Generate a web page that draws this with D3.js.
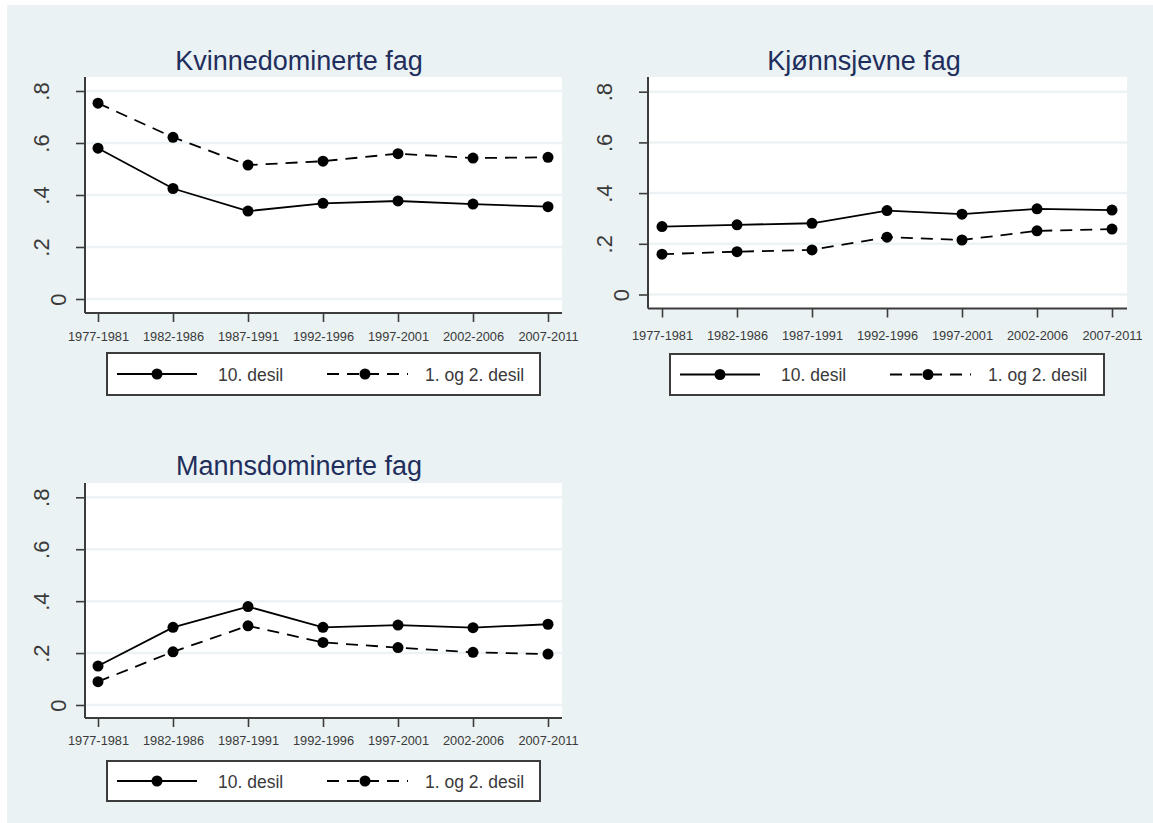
<!DOCTYPE html>
<html>
<head>
<meta charset="utf-8">
<script src="https://cdn.jsdelivr.net/npm/d3@7/dist/d3.min.js"></script>
<style>
  html, body { margin: 0; padding: 0; background: #ffffff; }
  svg { display: block; }
  text { font-family: "Liberation Sans", Arial, Helvetica, sans-serif; }
</style>
</head>
<body>
<svg id="chart" width="1153" height="823"></svg>
<script>
// Periods on the x axis
const periods = ["1977-1981", "1982-1986", "1987-1991", "1992-1996", "1997-2001", "2002-2006", "2007-2011"];
// Y axis ticks and their labels
const yTicks = [0, 0.2, 0.4, 0.6, 0.8];
const yTickLabels = ["0", ".2", ".4", ".6", ".8"];
// Series names
const seriesNames = ["10. desil", "1. og 2. desil"];
// Panel titles
const panelTitles = ["Kvinnedominerte fag", "Kjønnsjevne fag", "Mannsdominerte fag"];

// Kvinnedominerte fag
const kvinneTop = [0.58, 0.425, 0.338, 0.368, 0.377, 0.365, 0.355];
const kvinneBottom = [0.753, 0.622, 0.515, 0.530, 0.559, 0.542, 0.545];
// Kjønnsjevne fag
const jevnTop = [0.268, 0.275, 0.281, 0.331, 0.317, 0.338, 0.333];
const jevnBottom = [0.159, 0.169, 0.176, 0.226, 0.215, 0.251, 0.258];
// Mannsdominerte fag
const mannTop = [0.150, 0.299, 0.379, 0.299, 0.308, 0.298, 0.311];
const mannBottom = [0.090, 0.205, 0.305, 0.241, 0.221, 0.203, 0.196];

const seriesData = [
  [kvinneTop, kvinneBottom],
  [jevnTop, jevnBottom],
  [mannTop, mannBottom]
];

// Panel geometry (pixels)
const panels = [
  { x0: 85,  x1: 562,  top: 77,  axisY: 313,   yZero: 299,   yMax: 91,    xFirst: 98,  xLast: 548,
    titleX: 299, titleY: 69.5, tickLabelY: 340.5, legend: { x: 107, y: 353, w: 433, h: 42 } },
  { x0: 648, x1: 1127, top: 77,  axisY: 308.5, yZero: 294.5, yMax: 91.7,  xFirst: 662, xLast: 1112,
    titleX: 864, titleY: 69.5, tickLabelY: 339.5, legend: { x: 670, y: 354, w: 434, h: 41 } },
  { x0: 85,  x1: 562,  top: 483, axisY: 718,   yZero: 705,   yMax: 497.3, xFirst: 98,  xLast: 548,
    titleX: 299, titleY: 474.5, tickLabelY: 744.5, legend: { x: 107, y: 761, w: 433, h: 40 } }
];

const BG = "#eaf2f3";
const GRID = "#edf3f5";
const AXIS = "#3c3c3c";
const TEXT = "#3a3a3a";
const TITLE = "#1f2e5c";
const DASH = "12,8";

const svg = d3.select("#chart");

// Graph background
svg.append("rect")
  .attr("x", 7).attr("y", 5)
  .attr("width", 1153 - 7).attr("height", 823 - 5)
  .attr("fill", BG);

panels.forEach((p, i) => {
  const g = svg.append("g");

  const x = d3.scalePoint().domain(periods).range([p.xFirst, p.xLast]);
  const y = d3.scaleLinear().domain([0, 0.8]).range([p.yZero, p.yMax]);

  // Plot region
  g.append("rect")
    .attr("x", p.x0).attr("y", p.top)
    .attr("width", p.x1 - p.x0).attr("height", p.axisY - p.top)
    .attr("fill", "#ffffff");

  // Horizontal gridlines
  g.selectAll("line.grid").data(yTicks).join("line")
    .attr("class", "grid")
    .attr("x1", p.x0).attr("x2", p.x1)
    .attr("y1", d => y(d)).attr("y2", d => y(d))
    .attr("stroke", GRID).attr("stroke-width", 2.5);

  // Y axis
  const yAxis = d3.axisLeft(y).tickValues(yTicks).tickSize(9).tickFormat((d, k) => yTickLabels[k]);
  const ya = g.append("g").attr("transform", `translate(${p.x0},0)`).call(yAxis);
  ya.select(".domain").remove();
  ya.selectAll(".tick line").attr("stroke", AXIS).attr("stroke-width", 1.6);
  ya.selectAll(".tick text")
    .attr("x", null).attr("dy", null)
    .attr("transform", d => `translate(${d === 0 ? -19 : -36},0) rotate(-90)`)
    .attr("text-anchor", "middle")
    .attr("fill", TEXT)
    .style("font-size", "22px");
  g.append("line")
    .attr("x1", p.x0).attr("x2", p.x0)
    .attr("y1", p.top).attr("y2", p.axisY)
    .attr("stroke", AXIS).attr("stroke-width", 2);

  // X axis
  const xAxis = d3.axisBottom(x).tickSize(9).tickSizeOuter(0);
  const xa = g.append("g").attr("transform", `translate(0,${p.axisY})`).call(xAxis);
  xa.select(".domain").remove();
  xa.selectAll(".tick line").attr("stroke", AXIS).attr("stroke-width", 1.6);
  xa.selectAll(".tick text")
    .attr("y", p.tickLabelY - p.axisY).attr("dy", null)
    .attr("fill", TEXT)
    .style("font-size", "12.8px");
  g.append("line")
    .attr("x1", p.x0).attr("x2", p.x1)
    .attr("y1", p.axisY).attr("y2", p.axisY)
    .attr("stroke", AXIS).attr("stroke-width", 2);

  // Title
  g.append("text")
    .attr("x", p.titleX).attr("y", p.titleY)
    .attr("text-anchor", "middle")
    .attr("fill", TITLE)
    .style("font-size", "27px")
    .text(panelTitles[i]);

  // Series lines and markers
  const line = d3.line().x((d, k) => x(periods[k])).y(d => y(d));
  seriesData[i].forEach((vals, s) => {
    g.append("path")
      .datum(vals)
      .attr("d", line)
      .attr("fill", "none")
      .attr("stroke", "#000")
      .attr("stroke-width", 1.8)
      .attr("stroke-dasharray", s === 1 ? DASH : null);
    g.selectAll(`circle.s${s}`).data(vals).join("circle")
      .attr("class", `s${s}`)
      .attr("cx", (d, k) => x(periods[k]))
      .attr("cy", d => y(d))
      .attr("r", 5.5)
      .attr("fill", "#000");
  });

  // Legend
  const L = p.legend;
  const lg = g.append("g").attr("transform", `translate(${L.x},${L.y})`);
  lg.append("rect")
    .attr("width", L.w).attr("height", L.h)
    .attr("fill", "#ffffff")
    .attr("stroke", AXIS).attr("stroke-width", 2);
  const cy = L.h / 2;
  const keys = [
    { x1: 10, x2: 90, m: 50, tx: 111, dash: null },
    { x1: 220, x2: 301, m: 258, tx: 318, dash: DASH }
  ];
  keys.forEach((k, s) => {
    lg.append("line")
      .attr("x1", k.x1).attr("x2", k.x2)
      .attr("y1", cy).attr("y2", cy)
      .attr("stroke", "#000").attr("stroke-width", 1.8)
      .attr("stroke-dasharray", k.dash);
    lg.append("circle").attr("cx", k.m).attr("cy", cy).attr("r", 5.5).attr("fill", "#000");
    lg.append("text")
      .attr("x", k.tx).attr("y", cy + 6.5)
      .attr("fill", TEXT)
      .style("font-size", "17.5px")
      .text(seriesNames[s]);
  });
});
</script>
</body>
</html>
